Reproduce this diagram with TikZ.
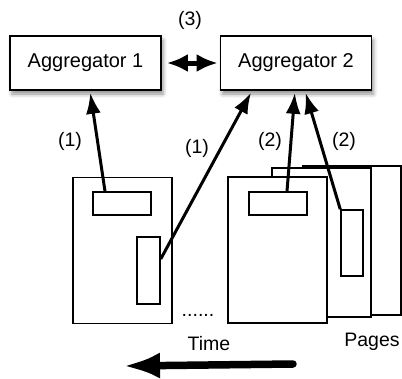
\documentclass[tikz,border=0pt]{standalone}
\usepackage{fontspec}
\setmainfont{Liberation Sans}
\usetikzlibrary{shapes,arrows.meta,shadows.blur}
\tikzstyle{ann} = [inner sep=0pt,font=\fontsize{19.5}{22}\selectfont]
\tikzstyle{agg} = [draw, fill=white, rectangle, line width=1.6pt,
    minimum height=54pt, minimum width=151pt,
    font=\fontsize{20}{22}\selectfont,
    blur shadow={shadow xshift=2pt, shadow yshift=-4pt, shadow blur radius=4pt, shadow opacity=45}]
\tikzstyle{page} = [draw, fill=white, rectangle, line width=1.5pt,
    minimum height=146pt, minimum width=99pt, inner sep=0pt]
\tikzstyle{field} = [draw, fill=white, rectangle, line width=1.5pt, inner sep=0pt]
\tikzstyle{link} = [line width=3pt, -{Latex[length=21pt,width=15pt]}, shorten >=2pt]

\begin{document}
\begin{tikzpicture}[x=1pt,y=-1pt]
\useasboundingbox (0,0) rectangle (402,378);

\node[agg, name=agg1] at (85.5,63) {Aggregator 1};
\node[agg, name=agg2] at (296,63) {Aggregator 2};

\draw[line width=5pt, {Latex[length=21pt,width=18pt]}-{Latex[length=21pt,width=18pt]},
    shorten <=5pt, shorten >=2pt] (agg1.east) -- (agg2.west);
\node[ann] at (190,20) {(3)};

% pages
\node[page, name=page1] at (122.5,250.5) {};
\node[page, name=page4, minimum height=149pt, minimum width=98pt] at (352,240.5) {};
\node[page, name=page3, minimum height=149pt] at (321.5,242.5) {};
\node[page, name=page2] at (277.5,250) {};

\node[field, name=hbox1, minimum width=58pt, minimum height=23pt] at (122,203.5) {};
\node[field, name=vbox1, minimum width=23pt, minimum height=67pt] at (148.5,270.5) {};
\node[field, name=hbox2, minimum width=58pt, minimum height=23pt] at (278,203.5) {};
\node[field, name=vbox2, minimum width=22pt, minimum height=66pt] at (352,243) {};

\draw[link] ([xshift=-17pt]hbox1.north) -- ([xshift=4.5pt]agg1.south);
\draw[link] ([yshift=11.5pt]vbox1.east) -- ([xshift=-44pt]agg2.south);
\draw[link] ([xshift=9pt]hbox2.north) -- ([xshift=-1pt]agg2.south);
\draw[link] (vbox2.north west) -- ([xshift=9pt]agg2.south);

\node[ann] at (70,141) {(1)};
\node[ann] at (197,148) {(1)};
\node[ann] at (270,141) {(2)};
\node[ann] at (344,141) {(2)};

\node[ann, anchor=base] at (198,316) {......};
\node[ann] at (209,344) {Time};
\node[ann] at (372,342) {Pages};

\coordinate (tfrom) at (293,364);
\coordinate (tto) at (123,366);
\draw[line width=7.5pt, line cap=round, -{Latex[length=37pt,width=26pt]}] (tfrom) -- (tto);

\end{tikzpicture}
\end{document}
